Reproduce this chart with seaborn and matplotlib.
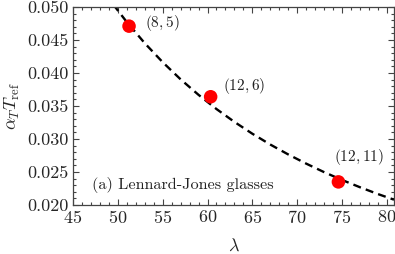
import matplotlib
matplotlib.use("Agg")
import matplotlib.pyplot as plt
import seaborn as sns
import pandas as pd
from matplotlib.ticker import MultipleLocator

# data
lam_pts = [51.25, 60.35, 74.6]
alpha_pts = [0.0471, 0.0364, 0.0235]
pt_labels = ["$(8,5)$", "$(12,6)$", "$(12,11)$"]

# dashed fit curve, read along its path
lam_fit = [49.5, 51, 53, 55, 57, 59, 61, 63, 65, 67, 69, 71, 73, 75, 77, 79, 80.8]
alpha_fit = [0.05036, 0.04772, 0.04452, 0.04164, 0.03904, 0.03669, 0.03454, 0.03259,
             0.03080, 0.02916, 0.02766, 0.02627, 0.02498, 0.02379, 0.02269, 0.02166, 0.02080]

sns.set_style("ticks")
plt.rcParams["font.family"] = ["cmr10"]
plt.rcParams["mathtext.fontset"] = "cm"
plt.rcParams["axes.formatter.use_mathtext"] = True
plt.rcParams["axes.unicode_minus"] = False

fig = plt.figure(figsize=(3.95, 2.54), dpi=100)
ax = fig.add_axes([0.1848, 0.193, 0.8127, 0.7794])

fit_df = pd.DataFrame({"lam": lam_fit, "alpha": alpha_fit})
pts_df = pd.DataFrame({"lam": lam_pts, "alpha": alpha_pts})

sns.lineplot(data=fit_df, x="lam", y="alpha", ax=ax, color="black", lw=1.7,
             linestyle=(0, (3.4, 2.2)), zorder=2)
sns.scatterplot(data=pts_df, x="lam", y="alpha", ax=ax, color="#ff0000",
                s=95, edgecolor="none", zorder=3)

offsets = [(53.0, 0.0476), (61.7, 0.0380), (74.1, 0.0273)]
for (tx, ty), lab in zip(offsets, pt_labels):
    ax.text(tx, ty, lab, fontsize=11, va="center", ha="left", color="#222222")

ax.text(0.059, 0.10, "(a) Lennard-Jones glasses", transform=ax.transAxes,
        fontsize=11.7, va="center", ha="left", color="#222222")

ax.set_xlim(45, 80.8)
ax.set_ylim(0.020, 0.050)
ax.xaxis.set_major_locator(MultipleLocator(5))
ax.xaxis.set_minor_locator(MultipleLocator(1))
ax.yaxis.set_major_locator(MultipleLocator(0.005))
ax.yaxis.set_minor_locator(MultipleLocator(0.001))
ax.yaxis.set_major_formatter(matplotlib.ticker.FormatStrFormatter("%.3f"))

ax.tick_params(which="both", direction="in", top=True, right=True,
               color="#444444", width=0.8)
ax.tick_params(which="major", length=4, labelsize=13, pad=3)
ax.tick_params(which="minor", length=2)
for s in ax.spines.values():
    s.set_color("#444444")
    s.set_linewidth(0.9)

ax.set_xlabel(r"$\lambda$", fontsize=13, labelpad=8)
ax.set_ylabel(r"$\alpha_T T_{\rm ref}$", fontsize=13, labelpad=4)

fig.savefig("out.png", dpi=100)
